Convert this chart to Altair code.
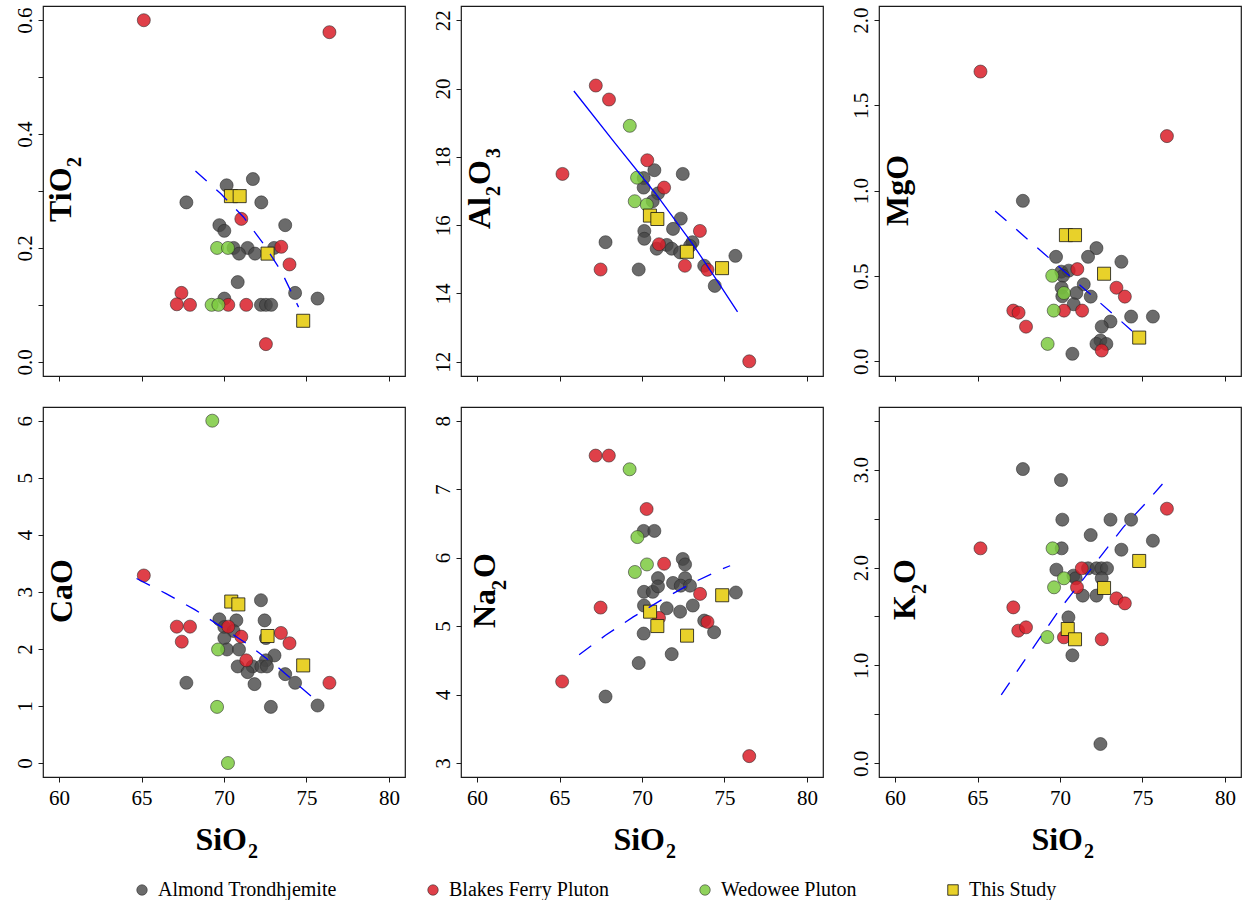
import altair as alt
import pandas as pd

FONT = "Liberation Serif"
GROUPS = ["Almond Trondhjemite", "Blakes Ferry Pluton", "Wedowee Pluton", "This Study"]

# ---------------- data: (SiO2, oxide) pairs ----------------
TIO2_ALMOND = [(70.16, 0.310), (71.75, 0.321), (67.72, 0.280), (72.26, 0.280), (69.72, 0.240),
               (70.02, 0.230), (73.71, 0.240), (70.58, 0.200), (71.43, 0.200), (70.91, 0.190),
               (71.88, 0.190), (73.04, 0.200), (70.83, 0.140), (70.02, 0.111), (74.31, 0.121),
               (75.67, 0.111), (72.24, 0.100), (72.54, 0.100), (72.86, 0.100)]
TIO2_BLAKES = [(65.14, 0.600), (76.39, 0.579), (71.05, 0.251), (73.47, 0.202), (73.97, 0.171),
               (67.42, 0.121), (67.14, 0.101), (67.94, 0.100), (70.26, 0.100), (71.35, 0.100),
               (72.54, 0.031)]
TIO2_WEDOWEE = [(69.58, 0.200), (70.24, 0.200), (69.25, 0.100), (69.66, 0.100)]
TIO2_THIS = [(70.42, 0.291), (70.95, 0.291), (72.64, 0.190), (74.80, 0.072)]

AL2O3_ALMOND = [(70.75, 17.61), (72.47, 17.50), (70.10, 17.38), (70.10, 17.10), (70.97, 16.93),
                (70.65, 16.70), (72.35, 16.19), (71.88, 15.89), (70.14, 15.83), (70.14, 15.60),
                (67.79, 15.50), (70.89, 15.31), (71.50, 15.42), (71.80, 15.31), (72.31, 15.20),
                (73.06, 15.50), (72.91, 15.39), (73.77, 14.81), (75.66, 15.10), (74.41, 14.22),
                (69.80, 14.70)]
AL2O3_BLAKES = [(65.18, 17.50), (67.20, 20.09), (68.00, 19.68), (70.32, 17.90), (71.34, 17.10),
                (71.03, 15.44), (73.51, 15.83), (72.60, 14.81), (73.97, 14.69), (67.49, 14.70),
                (76.50, 12.01)]
AL2O3_WEDOWEE = [(69.26, 18.91), (69.70, 17.39), (69.56, 16.70), (70.29, 16.60)]
AL2O3_THIS = [(70.48, 16.28), (70.93, 16.18), (72.72, 15.22), (74.85, 14.74)]

MGO_ALMOND = [(67.75, 0.941), (72.21, 0.664), (69.76, 0.613), (71.70, 0.613), (73.72, 0.584),
              (70.08, 0.526), (70.53, 0.532), (70.18, 0.502), (71.44, 0.452), (70.10, 0.432),
              (70.99, 0.401), (70.14, 0.382), (71.86, 0.380), (70.83, 0.335), (74.31, 0.263),
              (75.63, 0.263), (73.06, 0.234), (72.53, 0.204), (72.45, 0.123), (72.21, 0.103),
              (72.81, 0.103), (70.75, 0.045)]
MGO_BLAKES = [(65.18, 1.698), (76.48, 1.320), (71.05, 0.541), (73.42, 0.432), (73.93, 0.380),
              (67.17, 0.298), (67.49, 0.286), (67.94, 0.204), (70.24, 0.298), (71.34, 0.298),
              (72.53, 0.064)]
MGO_WEDOWEE = [(69.53, 0.502), (70.24, 0.401), (69.62, 0.298), (69.25, 0.103)]
MGO_THIS = [(70.36, 0.740), (70.91, 0.740), (72.67, 0.514), (74.80, 0.140)]

CAO_ALMOND = [(72.24, 2.853), (69.72, 2.519), (70.75, 2.500), (72.46, 2.500), (70.02, 2.384),
              (70.58, 2.314), (70.02, 2.191), (70.18, 1.990), (70.91, 1.990), (72.54, 2.190),
              (73.06, 1.886), (72.54, 1.800), (70.83, 1.693), (71.73, 1.693), (72.26, 1.693),
              (72.60, 1.693), (71.43, 1.593), (73.71, 1.558), (71.85, 1.383), (67.72, 1.406),
              (74.31, 1.406), (72.84, 0.984), (75.67, 1.008)]
CAO_BLAKES = [(65.14, 3.287), (67.14, 2.390), (67.94, 2.390), (67.44, 2.127), (70.26, 2.390),
              (71.05, 2.215), (71.35, 1.800), (73.45, 2.280), (73.97, 2.100), (76.39, 1.406)]
CAO_WEDOWEE = [(69.29, 6.000), (69.64, 1.990), (69.58, 0.984), (70.24, 0.000)]
CAO_THIS = [(70.44, 2.830), (70.87, 2.780), (72.64, 2.226), (74.80, 1.711)]

NA2O_ALMOND = [(70.10, 6.39), (70.75, 6.39), (72.47, 5.98), (72.61, 5.90), (70.97, 5.70),
               (72.61, 5.70), (71.88, 5.63), (72.35, 5.59), (72.91, 5.59), (70.12, 5.50),
               (70.65, 5.50), (70.97, 5.58), (75.69, 5.49), (70.12, 5.30), (71.50, 5.26),
               (73.08, 5.30), (72.31, 5.21), (73.77, 5.08), (70.10, 4.89), (74.37, 4.91),
               (71.80, 4.59), (69.80, 4.46), (67.79, 3.97)]
NA2O_BLAKES = [(67.19, 7.49), (67.99, 7.49), (70.28, 6.71), (71.34, 5.91), (67.49, 5.27),
               (65.16, 4.19), (73.52, 5.47), (73.97, 5.06), (71.03, 5.12), (76.50, 3.10)]
NA2O_WEDOWEE = [(69.25, 7.29), (69.72, 6.30), (70.30, 5.90), (69.57, 5.79)]
NA2O_THIS = [(70.49, 5.21), (70.93, 5.00), (72.73, 4.86), (74.86, 5.45)]

K2O_ALMOND = [(67.75, 3.006), (70.06, 2.894), (70.14, 2.489), (71.86, 2.332), (73.06, 2.489),
              (74.31, 2.489), (75.63, 2.274), (70.10, 2.196), (73.72, 2.182), (69.78, 1.978),
              (71.70, 1.992), (72.21, 1.992), (72.51, 1.992), (72.85, 1.992), (70.81, 1.917),
              (70.95, 1.890), (72.53, 1.890), (71.38, 1.713), (72.21, 1.713), (70.51, 1.491),
              (70.75, 1.103), (72.45, 0.197)]
K2O_BLAKES = [(65.18, 2.196), (76.48, 2.601), (67.17, 1.593), (67.47, 1.355), (67.94, 1.389),
              (70.24, 1.287), (71.32, 1.992), (71.03, 1.798), (73.42, 1.685), (73.93, 1.634),
              (72.53, 1.267)]
K2O_WEDOWEE = [(69.55, 2.196), (70.24, 1.890), (69.64, 1.798), (69.23, 1.290)]
K2O_THIS = [(70.47, 1.372), (70.91, 1.267), (72.67, 1.791), (74.80, 2.067)]

# fitted trend curves
TIO2_FIT = [(68.27, 0.335), (69.78, 0.296), (71.19, 0.254), (72.40, 0.207), (73.47, 0.159), (74.52, 0.096)]
AL2O3_FIT = [(65.87, 19.93), (68.40, 18.38), (70.83, 16.92), (73.05, 15.46), (74.47, 14.43), (75.79, 13.46)]
MGO_FIT = [(66.07, 0.882), (70.59, 0.500), (74.37, 0.179)]
CAO_FIT = [(64.70, 3.234), (66.49, 2.970), (68.23, 2.689), (69.94, 2.367), (71.59, 2.050),
           (73.21, 1.693), (74.72, 1.312), (75.52, 1.113)]
NA2O_FIT = [(66.19, 4.582), (67.79, 4.865), (69.47, 5.134), (71.19, 5.383), (72.91, 5.612),
            (74.82, 5.832), (75.34, 5.881)]
K2O_FIT = [(66.44, 0.698), (67.81, 1.042), (68.97, 1.328), (70.12, 1.604), (71.34, 1.866),
           (72.57, 2.138), (73.83, 2.411), (75.20, 2.659), (76.21, 2.853)]

X_TICKS = [60, 65, 70, 75, 80]
TIO2_TICKS = [0.0, 0.1, 0.2, 0.3, 0.4, 0.5, 0.6]
AL2O3_TICKS = [12, 14, 16, 18, 20, 22]
MGO_TICKS = [0.0, 0.5, 1.0, 1.5, 2.0]
CAO_TICKS = [0, 1, 2, 3, 4, 5, 6]
NA2O_TICKS = [3, 4, 5, 6, 7, 8]
K2O_TICKS = [0.0, 0.5, 1.0, 1.5, 2.0, 2.5, 3.0, 3.5]

# ---------------- layout / style ----------------
PANELS = [
    # key, points, fit, ticks, label expr, y-domain, dashed, title pieces (text, x, y, size)
    ("TiO2", [TIO2_ALMOND, TIO2_BLAKES, TIO2_WEDOWEE, TIO2_THIS], TIO2_FIT, TIO2_TICKS,
     "abs(round(datum.value*10)) % 2 == 0 ? format(datum.value, '.1f') : ''", [-0.025, 0.625], True,
     [("TiO", 28, 216, 32), ("2", 38, 161, 20)]),
    ("Al2O3", [AL2O3_ALMOND, AL2O3_BLAKES, AL2O3_WEDOWEE, AL2O3_THIS], AL2O3_FIT, AL2O3_TICKS,
     "format(datum.value, 'd')", [11.58, 22.42], False,
     [("Al", 29, 223, 32), ("2", 39, 190, 20), ("O", 29, 179, 32), ("3", 39, 152, 20)]),
    ("MgO", [MGO_ALMOND, MGO_BLAKES, MGO_WEDOWEE, MGO_THIS], MGO_FIT, MGO_TICKS,
     "format(datum.value, '.1f')", [-0.085, 2.082], True,
     [("MgO", 29, 220, 32)]),
    ("CaO", [CAO_ALMOND, CAO_BLAKES, CAO_WEDOWEE, CAO_THIS], CAO_FIT, CAO_TICKS,
     "format(datum.value, 'd')", [-0.245, 6.24], True,
     [("CaO", 29, 216, 32)]),
    ("Na2O", [NA2O_ALMOND, NA2O_BLAKES, NA2O_WEDOWEE, NA2O_THIS], NA2O_FIT, NA2O_TICKS,
     "format(datum.value, 'd')", [2.795, 8.2], True,
     [("Na", 34, 221, 32), ("2", 45, 183, 20), ("O", 34, 171, 32)]),
    ("K2O", [K2O_ALMOND, K2O_BLAKES, K2O_WEDOWEE, K2O_THIS], K2O_FIT, K2O_TICKS,
     "datum.value % 1 == 0 ? format(datum.value, '.1f') : ''", [-0.14, 3.64], True,
     [("K", 36, 213, 32), ("2", 47, 187, 20), ("O", 36, 177, 32)]),
]

X_DOMAIN = [59.03, 80.97]
W, H = 362, 370
FILLS = ["rgba(70,70,70,0.8)", "rgba(217,30,41,0.85)", "rgba(125,202,64,0.85)", "#E8D12A"]
STROKES = ["rgba(40,40,40,0.7)", "rgba(40,40,40,0.7)", "rgba(40,40,40,0.7)", "#111111"]
SHAPES = ["circle", "circle", "circle", "square"]
STROKE_W = [0.8, 0.8, 0.8, 1.3]

LEGEND = alt.Legend(title=None, orient="none", legendX=89, legendY=874, direction="horizontal",
                    labelFont=FONT, labelFontSize=20, labelColor="#000", labelLimit=600,
                    symbolSize=110, labelOffset=6, columnPadding=86, padding=0, offset=0,
                    symbolStrokeWidth=1)


def text_layer(s, x, y, size, angle, align):
    return alt.Chart(pd.DataFrame({"t": [s]})).mark_text(
        angle=angle, align=align, baseline="alphabetic", font=FONT, fontSize=size,
        fontWeight="bold", color="#000"
    ).encode(text="t:N", x=alt.value(x), y=alt.value(y))


def make_panel(spec, bottom):
    key, groups, fit, ticks, lexpr, ydom, dashed, title = spec
    rows = []
    for g, lst in zip(GROUPS, groups):
        for si, v in lst:
            rows.append({"group": g, "SiO2": si, "value": v})
    pts = pd.DataFrame(rows)
    fit_df = pd.DataFrame(fit, columns=["SiO2", "value"])

    xax = alt.Axis(values=X_TICKS, labels=bottom, title=None, grid=False, domain=False,
                   tickSize=5, tickWidth=1, tickColor="#1a1a1a", labelFont=FONT, labelFontSize=21,
                   labelColor="#000", labelPadding=5, labelFlush=False)
    yax = alt.Axis(values=ticks, labelExpr=lexpr, title=None, grid=False, domain=False,
                   tickSize=5, tickWidth=1, tickColor="#1a1a1a", labelFont=FONT, labelFontSize=21,
                   labelColor="#000", labelAngle=270, labelAlign="center", labelBaseline="bottom",
                   labelPadding=3, labelOverlap=False, labelFlush=False)

    points = alt.Chart(pts).mark_point(filled=True, size=170, opacity=1).encode(
        x=alt.X("SiO2:Q", scale=alt.Scale(domain=X_DOMAIN, nice=False, zero=False), axis=xax),
        y=alt.Y("value:Q", scale=alt.Scale(domain=ydom, nice=False, zero=False), axis=yax),
        color=alt.Color("group:N", scale=alt.Scale(domain=GROUPS, range=FILLS), legend=LEGEND),
        shape=alt.Shape("group:N", scale=alt.Scale(domain=GROUPS, range=SHAPES), legend=LEGEND),
        stroke=alt.Stroke("group:N", scale=alt.Scale(domain=GROUPS, range=STROKES), legend=LEGEND),
        strokeWidth=alt.StrokeWidth("group:N", scale=alt.Scale(domain=GROUPS, range=STROKE_W), legend=None),
    )
    line_kw = dict(color="#0000FF", strokeWidth=1.3)
    if dashed:
        line_kw["strokeDash"] = [15, 13]
    line = alt.Chart(fit_df).mark_line(**line_kw).encode(x="SiO2:Q", y="value:Q")

    layers = [points, line]
    for s, x, y, size in title:
        layers.append(text_layer(s, x, y, size, 270, "left"))
    if bottom:
        layers.append(text_layer("SiO", 204, 443, 32, 0, "right"))
        layers.append(text_layer("2", 205, 451, 20, 0, "left"))
    return alt.layer(*layers).properties(width=W, height=H)


panels = [make_panel(p, i >= 3) for i, p in enumerate(PANELS)]

chart = alt.concat(*panels, columns=3, spacing={"row": 31, "column": 56}, bounds="flush").resolve_scale(
    y="independent"
).properties(
    padding={"left": 13, "top": 5, "right": 0, "bottom": 0}
).configure(
    background="white", font=FONT
).configure_axis(
    labelFont=FONT
).configure_legend(
    labelFont=FONT
).configure_view(stroke="#1a1a1a", strokeWidth=1.2)

chart.save("out.html", embed_options={"renderer": "svg", "actions": False})
